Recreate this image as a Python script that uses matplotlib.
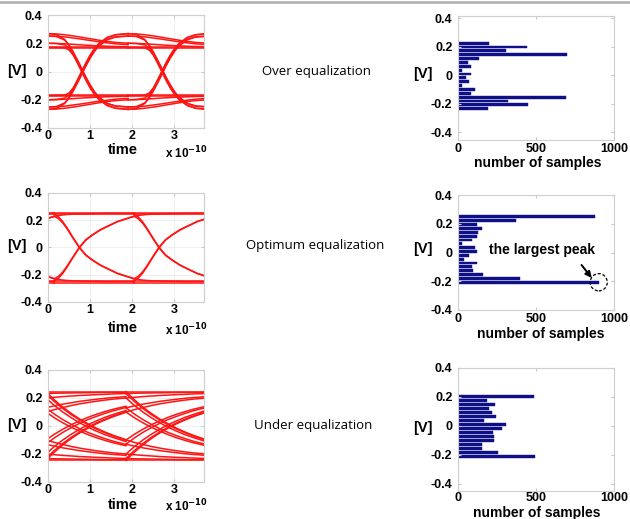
import matplotlib
matplotlib.use('Agg')
import matplotlib.pyplot as plt
import numpy as np
from matplotlib.patches import Ellipse

plt.rcParams['font.family'] = ['Liberation Sans', 'DejaVu Sans']
plt.rcParams['font.weight'] = 'bold'

W, H = 630, 519

# ---- eye diagram data (time in units of 1e-10 s, voltage in V) ----
# over equalization: one-UI segments, drawn at each bit boundary
over_tau = [0, 0.2, 0.4, 0.5, 0.6, 0.7, 0.8, 0.9, 1.0, 1.1, 1.2, 1.4, 1.6, 1.9]
over_starts = [0.0, 1.9]
over_segs = [
    [0.268, 0.262, 0.225, 0.180, 0.122, 0.062, 0.000, -0.060, -0.115, -0.160, -0.195, -0.240, -0.260, -0.268],
    [0.251, 0.248, 0.222, 0.188, 0.138, 0.082, 0.022, -0.040, -0.095, -0.142, -0.180, -0.225, -0.244, -0.251],
    [0.200, 0.198, 0.188, 0.165, 0.118, 0.060, 0.000, -0.060, -0.115, -0.160, -0.195, -0.240, -0.260, -0.268],
    [0.170, 0.170, 0.167, 0.152, 0.116, 0.068, 0.015, -0.045, -0.098, -0.144, -0.181, -0.226, -0.245, -0.251],
    [0.268, 0.266, 0.260, 0.256, 0.252, 0.247, 0.242, 0.237, 0.232, 0.227, 0.222, 0.213, 0.206, 0.200],
    [0.251, 0.250, 0.245, 0.241, 0.237, 0.233, 0.229, 0.224, 0.220, 0.215, 0.211, 0.203, 0.196, 0.190],
    [0.200, 0.199, 0.196, 0.194, 0.192, 0.190, 0.188, 0.186, 0.185, 0.183, 0.182, 0.179, 0.177, 0.175],
    [0.172, 0.172, 0.172, 0.172, 0.172, 0.172, 0.172, 0.172, 0.172, 0.172, 0.172, 0.172, 0.172, 0.172],
    [0.165, 0.165, 0.165, 0.165, 0.165, 0.165, 0.165, 0.165, 0.165, 0.165, 0.165, 0.165, 0.165, 0.165],
    [-0.268, -0.262, -0.225, -0.180, -0.122, -0.062, 0.000, 0.060, 0.115, 0.160, 0.195, 0.240, 0.260, 0.268],
    [-0.251, -0.248, -0.222, -0.188, -0.138, -0.082, -0.022, 0.040, 0.095, 0.142, 0.180, 0.225, 0.244, 0.251],
    [-0.200, -0.198, -0.188, -0.165, -0.118, -0.060, 0.000, 0.060, 0.115, 0.160, 0.195, 0.240, 0.260, 0.268],
    [-0.170, -0.170, -0.167, -0.152, -0.116, -0.068, -0.015, 0.045, 0.098, 0.144, 0.181, 0.226, 0.245, 0.251],
    [-0.268, -0.266, -0.260, -0.256, -0.252, -0.247, -0.242, -0.237, -0.232, -0.227, -0.222, -0.213, -0.206, -0.200],
    [-0.251, -0.250, -0.245, -0.241, -0.237, -0.233, -0.229, -0.224, -0.220, -0.215, -0.211, -0.203, -0.196, -0.190],
    [-0.200, -0.199, -0.196, -0.194, -0.192, -0.190, -0.188, -0.186, -0.185, -0.183, -0.182, -0.179, -0.177, -0.175],
    [-0.172, -0.172, -0.172, -0.172, -0.172, -0.172, -0.172, -0.172, -0.172, -0.172, -0.172, -0.172, -0.172, -0.172],
    [-0.165, -0.165, -0.165, -0.165, -0.165, -0.165, -0.165, -0.165, -0.165, -0.165, -0.165, -0.165, -0.165, -0.165],
]

# optimum equalization
opt_tau = [0, 0.1, 0.2, 0.3, 0.45, 0.6, 0.75, 0.9, 1.1, 1.3, 1.5, 1.7, 1.89]
opt_starts = [-1.74, 0.15, 2.04]
opt_segs = [
    [0.245, 0.225, 0.190, 0.145, 0.070, 0.000, -0.055, -0.090, -0.130, -0.160, -0.190, -0.210, -0.229],
    [0.229, 0.212, 0.180, 0.138, 0.065, -0.005, -0.058, -0.093, -0.132, -0.162, -0.191, -0.211, -0.229],
    [0.229, 0.235, 0.239, 0.242, 0.245, 0.246, 0.247, 0.248, 0.249, 0.250, 0.250, 0.250, 0.250],
    [0.246, 0.246, 0.246, 0.246, 0.246, 0.246, 0.246, 0.246, 0.246, 0.246, 0.246, 0.246, 0.246],
    [0.256, 0.256, 0.256, 0.256, 0.256, 0.256, 0.256, 0.256, 0.256, 0.256, 0.256, 0.256, 0.256],
    [-0.245, -0.225, -0.190, -0.145, -0.070, 0.000, 0.055, 0.090, 0.130, 0.160, 0.190, 0.210, 0.229],
    [-0.229, -0.212, -0.180, -0.138, -0.065, 0.005, 0.058, 0.093, 0.132, 0.162, 0.191, 0.211, 0.229],
    [-0.229, -0.235, -0.239, -0.242, -0.245, -0.246, -0.247, -0.248, -0.249, -0.250, -0.250, -0.250, -0.250],
    [-0.249, -0.249, -0.249, -0.249, -0.249, -0.249, -0.249, -0.249, -0.249, -0.249, -0.249, -0.249, -0.249],
    [-0.260, -0.260, -0.260, -0.260, -0.260, -0.260, -0.260, -0.260, -0.260, -0.260, -0.260, -0.260, -0.260],
]

# under equalization
under_tau = [0, 0.2, 0.4, 0.6, 0.8, 1.0, 1.2, 1.4, 1.6, 1.9]
under_starts = [-0.05, 1.85]
under_segs = [
    [-0.245, -0.187, -0.135, -0.090, -0.050, -0.015, 0.016, 0.043, 0.067, 0.098],
    [-0.232, -0.175, -0.125, -0.081, -0.043, -0.008, 0.022, 0.048, 0.072, 0.102],
    [-0.200, -0.147, -0.100, -0.059, -0.023, 0.009, 0.037, 0.062, 0.083, 0.111],
    [-0.130, -0.085, -0.046, -0.012, 0.019, 0.046, 0.069, 0.090, 0.109, 0.132],
    [-0.100, -0.059, -0.023, 0.009, 0.037, 0.062, 0.084, 0.103, 0.120, 0.141],
    [0.245, 0.187, 0.135, 0.090, 0.050, 0.015, -0.016, -0.043, -0.067, -0.098],
    [0.232, 0.175, 0.125, 0.081, 0.043, 0.008, -0.022, -0.048, -0.072, -0.102],
    [0.200, 0.147, 0.100, 0.059, 0.023, -0.009, -0.037, -0.062, -0.083, -0.111],
    [0.130, 0.085, 0.046, 0.012, -0.019, -0.046, -0.069, -0.090, -0.109, -0.132],
    [0.100, 0.059, 0.023, -0.009, -0.037, -0.062, -0.084, -0.103, -0.120, -0.141],
    [0.245, 0.245, 0.245, 0.245, 0.245, 0.245, 0.245, 0.245, 0.245, 0.245],
    [0.232, 0.234, 0.235, 0.236, 0.237, 0.238, 0.239, 0.240, 0.240, 0.241],
    [0.200, 0.205, 0.210, 0.214, 0.218, 0.221, 0.224, 0.226, 0.229, 0.232],
    [0.130, 0.144, 0.156, 0.166, 0.176, 0.184, 0.191, 0.198, 0.203, 0.210],
    [0.100, 0.117, 0.132, 0.146, 0.158, 0.168, 0.177, 0.185, 0.192, 0.200],
    [-0.245, -0.245, -0.245, -0.245, -0.245, -0.245, -0.245, -0.245, -0.245, -0.245],
    [-0.232, -0.234, -0.235, -0.236, -0.237, -0.238, -0.239, -0.240, -0.240, -0.241],
    [-0.200, -0.205, -0.210, -0.214, -0.218, -0.221, -0.224, -0.226, -0.229, -0.232],
    [-0.130, -0.144, -0.156, -0.166, -0.176, -0.184, -0.191, -0.198, -0.203, -0.210],
    [-0.100, -0.117, -0.132, -0.146, -0.158, -0.168, -0.177, -0.185, -0.192, -0.200],
]

# ---- histogram data (bin centre in V, number of samples) ----
over_bins = [-0.235, -0.208, -0.181, -0.154, -0.127, -0.100, -0.073, -0.046, -0.019,
             0.008, 0.035, 0.062, 0.089, 0.116, 0.143, 0.170, 0.197, 0.224]
over_counts = [192, 451, 320, 694, 85, 107, 26, 70, 53, 81, 26, 81, 64, 132, 701, 305, 442, 199]

opt_bins = [-0.207, -0.180, -0.154, -0.127, -0.100, -0.073, -0.046, -0.020, 0.007,
            0.034, 0.061, 0.087, 0.114, 0.141, 0.168, 0.195, 0.221, 0.248]
opt_counts = [902, 400, 160, 96, 92, 124, 38, 68, 124, 107, 28, 92, 122, 128, 154, 124, 374, 880]

under_bins = [-0.211, -0.184, -0.156, -0.129, -0.101, -0.074, -0.047, -0.019,
              0.008, 0.036, 0.063, 0.090, 0.118, 0.145, 0.173, 0.200]
under_counts = [494, 258, 156, 155, 233, 228, 225, 280, 307, 167, 246, 216, 197, 237, 189, 487]

row_titles = ['Over equalization', 'Optimum equalization', 'Under equalization']

fig = plt.figure(figsize=(W / 100, H / 100), dpi=100)


def box(l, t, r, b):
    return [l / W, 1 - b / H, (r - l) / W, (b - t) / H]


def ftext(x, y, s, **kw):
    fig.text(x / W, 1 - y / H, s, ha='center', va='center', **kw)


def style(ax, pad_x):
    for sp in ax.spines.values():
        sp.set_color('#cfcfcf')
        sp.set_linewidth(0.8)
    ax.tick_params(direction='in', length=2, color='#c8c8c8', labelsize=9,
                   top=True, right=True)
    ax.tick_params(axis='x', pad=pad_x)
    ax.tick_params(axis='y', pad=4)
    ax.set_yticks([-0.4, -0.2, 0, 0.2, 0.4])
    ax.set_yticklabels(['-0.4', '-0.2', '0', '0.2', '0.4'])


def draw_eye(ax, tau, segs, starts):
    for t0 in starts:
        for seg in segs:
            ax.plot(np.array(tau) + t0, seg, color='#ff1414', lw=1.1)
    ax.set_xlim(0, 3.7)
    ax.set_ylim(-0.4, 0.4)
    ax.set_xticks([0, 1, 2, 3])
    ax.set_xticklabels(['0', '1', '2', '3'])
    ax.grid(True, color='#ececec', lw=0.6)
    ax.set_axisbelow(True)
    style(ax, 1.5)


eye_boxes = [(48, 15, 204, 128), (48, 193, 204, 302), (48, 370, 204, 482)]
eye_data = [(over_tau, over_segs, over_starts), (opt_tau, opt_segs, opt_starts),
            (under_tau, under_segs, under_starts)]
hist_boxes = [(458, 16, 614, 140), (458, 195, 614, 310), (458, 368, 614, 491)]
hist_ylims = [(-0.455, 0.415), (-0.4, 0.4), (-0.45, 0.4)]
hist_pads = [2.5, 2.5, 1.0]
hist_data = [(over_bins, over_counts), (opt_bins, opt_counts), (under_bins, under_counts)]

row_y = [71, 246, 425]
time_y = [150, 328, 505]
exp_y = [153, 330, 506]
ns_y = [163, 334, 513]
ns_x = [538, 541, 537]
title_x = [316, 315, 313]

for i in range(3):
    ax = fig.add_axes(box(*eye_boxes[i]))
    draw_eye(ax, *eye_data[i])

    hx = fig.add_axes(box(*hist_boxes[i]))
    bins, counts = hist_data[i]
    hx.barh(bins, counts, height=0.02, color='#0f0f86', edgecolor='#0f0f86', lw=0.3)
    hx.set_xlim(0, 1000)
    hx.set_ylim(*hist_ylims[i])
    hx.set_xticks([0, 500, 1000])
    hx.set_xticklabels(['0', '500', '1000'])
    style(hx, hist_pads[i])

    ftext(17, row_y[i], '[V]', fontsize=10.5)
    ftext(423, row_y[i] + 3, '[V]', fontsize=10.5)
    ftext(123, time_y[i], 'time', fontsize=10.5)
    ftext(186, exp_y[i], r'x 10$^{\mathbf{-10}}$', fontsize=8.5)
    ftext(ns_x[i], ns_y[i], 'number of samples', fontsize=10)
    ftext(title_x[i], row_y[i], row_titles[i], fontsize=9.5, fontweight='normal',
          family=['Open Sans', 'DejaVu Sans'])

    if i == 1:
        k = int(np.argmax(counts))
        px, py = counts[k], bins[k]
        hx.add_patch(Ellipse((px, py), 110, 0.12, fill=False, ls=(0, (2.5, 1.5)),
                             lw=0.9, color='black', clip_on=False))
        hx.annotate('', xy=(px - 45, py + 0.03), xytext=(px - 110, py + 0.12),
                    arrowprops=dict(arrowstyle='-|>', color='black', lw=1.4,
                                    mutation_scale=9, shrinkA=0, shrinkB=0))
        hx.text(541, 0.016, 'the largest peak', ha='center', va='center', fontsize=10)

# thin grey rule along the top of the page
fig.add_artist(plt.Line2D([0, 1], [1 - 2 / H, 1 - 2 / H], color='#b4b4b4', lw=2))

fig.savefig('out.png', dpi=100, facecolor='white')
